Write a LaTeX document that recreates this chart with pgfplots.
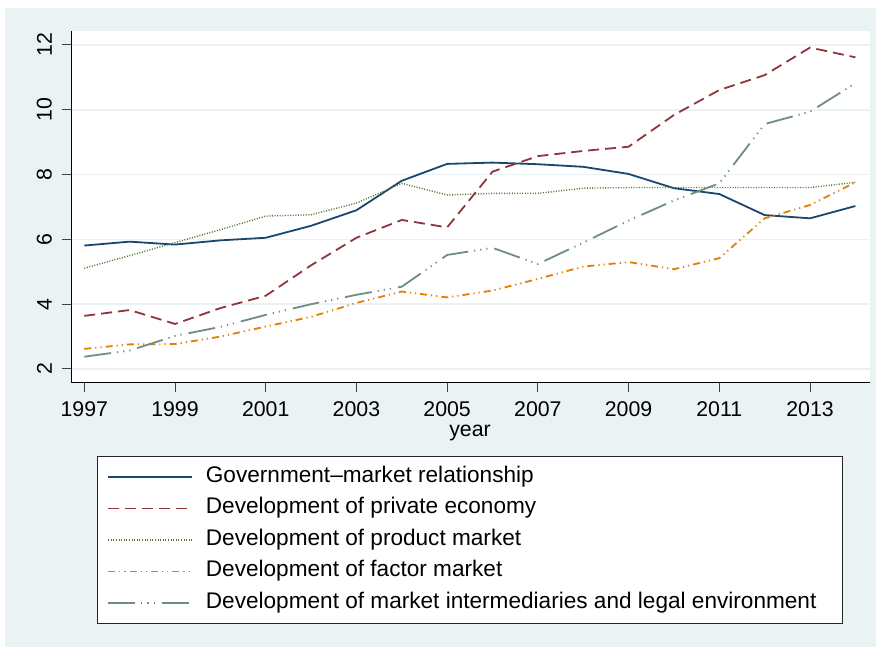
\documentclass[border=0pt]{standalone}
\usepackage{pgfplots}
\pgfplotsset{compat=1.18}
\usepackage{fontspec}
\setmainfont{Liberation Sans}

\definecolor{stnavy}{RGB}{26,71,111}
\definecolor{stmaroon}{RGB}{144,53,59}
\definecolor{stgreen}{RGB}{85,117,47}
\definecolor{storange}{RGB}{227,126,0}
\definecolor{stteal}{RGB}{110,142,132}
\definecolor{stbg}{RGB}{234,242,243}

\newcommand{\fsz}{\fontsize{21.3bp}{25bp}\selectfont}
\newcommand{\lsz}{\fontsize{22.6bp}{26bp}\selectfont}

\begin{document}
\begin{tikzpicture}[x=1bp,y=1bp]
\fill[white] (0,0) rectangle (876,647);
\fill[stbg] (5,0) rectangle (876,639);
\begin{axis}[
    at={(71bp,264bp)}, anchor=south west,
    scale only axis, width=799bp, height=352bp,
    xmin=1996.707, xmax=2014.323,
    ymin=1.568, ymax=12.432,
    axis background/.style={fill=white},
    axis lines=left,
    axis line style={-, black, line width=1bp},
    xtick={1997,1999,...,2013},
    ytick={2,4,...,12},
    tick align=outside,
    major tick length=9bp,
    tick style={black!75, line width=1bp},
    ymajorgrids,
    grid style={stbg, line width=1.6bp},
    /pgf/number format/.cd, 1000 sep={}, assume math mode=true,
    /pgfplots/.cd,
    tick label style={font=\fsz},
    xticklabel style={inner sep=0pt, yshift=-9bp},
    yticklabel style={rotate=90, anchor=south, inner sep=0pt},
    yticklabel shift={10bp},
    xlabel={year},
    xlabel style={at={(axis description cs:0.4994,-0.1506)}, anchor=base, font=\fsz},
    legend style={at={(axis description cs:0.03254,-0.20739)}, anchor=north west,
        draw=black!85, line width=0.8bp, fill=white,
        inner xsep=10bp, inner ysep=10bp, row sep=10.5bp,
        font=\lsz, cells={anchor=west},
        nodes={inner sep=0pt, text height=16bp, text depth=5bp},
        /tikz/every odd column/.style={column sep=13bp}},
    legend image code/.code={\draw[#1, line width=1.5bp] (0bp,0bp) -- (84bp,0bp);},
    legend cell align=left,
]
\addplot[stnavy, line width=1.8bp] coordinates {
(1997,5.81) (1998,5.93) (1999,5.84) (2000,5.97) (2001,6.05) (2002,6.42)
(2003,6.90) (2004,7.81) (2005,8.33) (2006,8.37) (2007,8.32) (2008,8.24)
(2009,8.02) (2010,7.58) (2011,7.40) (2012,6.75) (2013,6.65) (2014,7.03)};
\addlegendentry{Government–market relationship}
\addplot[stmaroon, line width=1.8bp, dash pattern=on 11bp off 6bp] coordinates {
(1997,3.64) (1998,3.82) (1999,3.39) (2000,3.88) (2001,4.26) (2002,5.20)
(2003,6.05) (2004,6.60) (2005,6.37) (2006,8.09) (2007,8.57) (2008,8.73)
(2009,8.86) (2010,9.84) (2011,10.61) (2012,11.07) (2013,11.92) (2014,11.62)};
\addlegendentry{Development of private economy}
\addplot[stgreen, line width=1.4bp, dash pattern=on 1bp off 1.6bp] coordinates {
(1997,5.11) (1998,5.50) (1999,5.90) (2000,6.30) (2001,6.72) (2002,6.76)
(2003,7.12) (2004,7.73) (2005,7.37) (2006,7.42) (2007,7.42) (2008,7.58)
(2009,7.60) (2010,7.60) (2011,7.60) (2012,7.60) (2013,7.60) (2014,7.76)};
\addlegendentry{Development of product market}
\addplot[storange, line width=1.8bp, dash pattern=on 7bp off 4bp on 1.2bp off 4bp on 1.2bp off 4bp] coordinates {
(1997,2.62) (1998,2.76) (1999,2.77) (2000,3.00) (2001,3.31) (2002,3.61)
(2003,4.04) (2004,4.39) (2005,4.21) (2006,4.42) (2007,4.78) (2008,5.16)
(2009,5.30) (2010,5.08) (2011,5.42) (2012,6.65) (2013,7.06) (2014,7.76)};
\addlegendentry{Development of factor market}
\addplot[stteal, line width=1.8bp, dash pattern=on 27bp off 6bp on 1.2bp off 5bp on 1.2bp off 5bp on 1.2bp off 7bp] coordinates {
(1997,2.38) (1998,2.57) (1999,3.02) (2000,3.30) (2001,3.67) (2002,4.00)
(2003,4.29) (2004,4.54) (2005,5.52) (2006,5.74) (2007,5.24) (2008,5.90)
(2009,6.58) (2010,7.20) (2011,7.73) (2012,9.56) (2013,9.94) (2014,10.82)};
\addlegendentry{Development of market intermediaries and legal environment\rule{16bp}{0pt}}
\end{axis}
\end{tikzpicture}
\end{document}
